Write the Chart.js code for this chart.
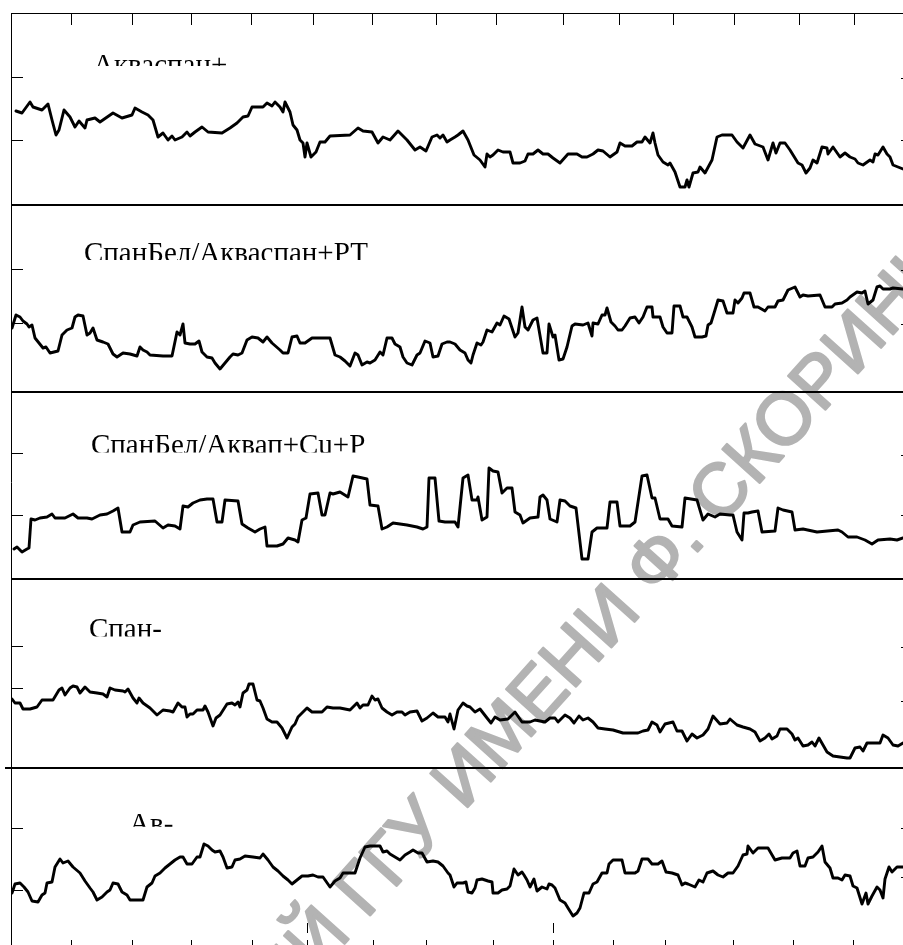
<!DOCTYPE html>
<html>
<head>
<meta charset="utf-8">
<script src="https://cdn.jsdelivr.net/npm/chart.js@4.4.1/dist/chart.umd.min.js"></script>
<style>
  html, body { margin: 0; padding: 0; background: #fff; overflow: hidden; width: 903px; height: 945px; }
  canvas { display: block; }
</style>
</head>
<body>
<canvas id="traces" width="903" height="960"></canvas>
<script>
// ---- recorded traces (time in arbitrary units, signal in panel units) ----
const p1Time = [5,11,19,22,31,37,41,45,48,53,59,64,68,74,76,84,89,102,111,121,124,131,137,142,147,152,157,161,164,171,176,179,184,191,197,211,219,226,232,237,241,252,256,261,264,269,272,274,279,282,286,289,292,294,296,300,305,309,314,319,339,347,352,361,367,372,379,387,396,404,409,415,421,426,429,432,436,439,444,447,452,457,463,469,474,476,479,482,487,492,499,502,509,514,517,522,527,532,537,542,549,557,566,571,576,582,587,592,599,606,609,614,621,626,631,634,639,642,644,647,652,657,659,664,669,674,676,678,682,687,689,694,701,706,711,721,726,732,739,744,752,757,762,765,769,774,779,787,791,795,799,802,806,811,816,817,822,829,834,839,844,847,852,859,862,864,867,872,876,879,882,887,892];
const p1Value = [94,92,103,98,95,101,85,70,75,95,88,78,84,77,85,87,83,92,87,90,97,93,90,85,68,72,65,69,65,68,73,69,73,78,73,72,77,82,88,89,98,98,102,99,103,98,93,103,93,80,75,65,62,48,62,48,53,63,63,69,70,77,74,73,62,68,65,74,65,55,58,54,68,70,67,70,63,65,68,70,74,65,50,45,38,51,48,50,55,53,53,42,42,44,51,51,55,51,51,47,42,51,51,48,48,51,55,54,48,53,62,59,59,63,63,68,62,72,62,50,43,40,42,33,18,18,25,18,32,33,38,32,45,68,70,70,63,57,70,61,58,45,62,52,62,62,55,42,40,32,37,45,42,58,57,51,58,48,52,48,46,42,40,45,43,51,50,58,51,48,40,38,36];

const p2Time = [1,5,9,12,16,18,21,24,28,32,35,39,47,51,56,61,64,67,72,76,79,82,86,92,97,102,106,112,119,126,129,132,136,139,152,161,166,169,172,174,179,184,188,191,196,201,204,209,214,219,222,227,231,236,241,247,252,256,261,269,272,277,281,286,289,294,301,319,324,329,334,339,344,347,351,356,359,364,369,372,376,381,384,389,392,396,401,406,409,414,419,422,427,431,436,439,444,449,454,457,460,462,466,470,472,476,481,486,489,493,498,504,507,511,514,517,522,526,532,536,538,542,544,548,552,556,561,564,572,577,581,582,587,591,594,596,600,604,607,611,614,619,624,628,632,636,641,642,649,652,656,661,663,669,672,676,681,684,691,695,697,700,704,707,712,716,722,724,727,731,733,739,743,747,754,757,764,767,772,777,784,789,792,797,809,814,821,824,831,836,839,846,851,854,857,862,866,869,872,879,882,892];
const p2Value = [64,77,75,71,68,65,67,54,49,44,45,39,41,57,62,64,75,77,76,57,59,64,52,50,48,38,35,39,38,36,45,42,40,37,36,36,60,57,68,49,48,48,51,40,35,34,29,23,29,35,38,37,39,52,55,54,50,55,49,42,39,39,55,56,49,49,54,54,37,35,31,26,39,37,27,30,29,32,40,37,54,54,48,45,35,29,27,37,39,51,49,35,36,48,50,50,48,42,39,32,29,37,49,47,50,62,60,69,67,76,73,55,59,85,65,62,72,74,39,39,68,55,57,32,33,45,66,68,67,69,56,69,68,77,77,84,70,66,62,62,66,74,75,69,75,85,85,75,75,65,59,59,86,86,75,75,65,55,55,56,67,69,82,92,91,79,79,92,89,94,99,99,85,85,81,85,85,91,92,102,105,95,97,96,97,85,85,88,89,92,95,100,99,101,88,92,105,106,103,103,104,103];

const p3Time = [3,6,11,16,18,20,24,29,36,41,44,54,62,67,76,81,89,96,102,107,111,119,122,129,144,152,157,164,169,172,177,182,189,196,202,206,211,214,227,231,237,244,249,254,256,266,272,277,284,287,291,295,299,307,311,314,319,322,329,337,342,347,356,359,367,371,376,382,396,406,412,416,418,424,428,434,439,444,447,452,457,461,466,467,471,476,478,482,487,491,496,501,504,509,512,519,527,529,532,536,539,546,549,554,559,565,571,577,581,586,596,599,606,609,619,624,631,636,641,644,649,657,661,671,674,686,692,697,704,709,719,722,726,731,733,737,741,747,751,764,767,772,781,784,792,806,827,831,837,846,854,861,867,879,886,892];
const p3Value = [30,32,27,30,31,60,59,61,62,65,61,61,65,61,61,60,64,65,68,71,47,47,54,57,58,51,54,53,50,73,72,76,79,80,80,57,57,79,78,55,51,47,50,52,33,33,35,41,39,37,59,61,85,86,64,64,86,85,87,82,103,102,100,74,73,50,52,56,54,52,50,52,101,101,58,57,57,57,52,101,104,79,79,82,59,62,111,108,107,86,91,91,67,64,56,61,62,82,84,79,60,57,79,78,73,71,20,20,47,51,51,77,77,53,53,57,103,104,81,81,60,60,53,52,81,79,59,65,62,65,64,64,47,39,66,66,67,68,47,48,71,69,67,49,50,47,49,47,42,42,39,35,39,40,39,41];

const p4Time = [1,4,9,12,19,26,31,42,48,51,54,59,62,66,69,74,79,86,92,96,99,104,112,114,117,122,126,128,132,139,146,152,159,162,167,171,174,176,179,182,186,192,194,197,202,205,209,216,221,224,227,229,232,236,238,242,246,249,252,256,261,266,271,276,281,284,287,292,296,301,311,316,322,329,334,339,346,349,352,357,361,364,367,371,376,381,386,391,394,399,406,411,416,422,427,434,437,439,443,447,452,456,459,464,469,476,480,484,489,497,504,511,519,524,534,539,544,547,554,559,563,568,572,577,582,587,594,602,612,627,632,637,641,646,649,654,662,666,671,676,681,686,692,697,702,709,716,719,726,732,739,744,749,754,758,761,766,769,776,781,784,787,792,797,801,804,808,812,816,822,829,836,839,844,849,852,856,862,869,872,877,882,887,892];
const p4Value = [69,65,65,59,59,61,68,68,78,80,73,80,82,81,75,81,76,75,74,71,80,78,77,76,79,70,65,70,65,60,53,58,57,56,65,61,61,51,54,54,58,58,62,56,42,50,53,64,65,63,66,61,75,78,84,84,68,67,60,49,46,46,40,30,41,44,51,56,60,56,56,61,60,60,59,58,65,60,63,63,72,68,69,60,56,53,56,56,53,56,57,47,50,55,51,51,46,54,39,58,65,62,61,56,59,50,45,51,48,49,56,46,46,48,46,50,50,46,53,50,45,52,48,50,46,40,39,38,35,35,37,38,46,43,36,44,46,37,37,27,34,30,33,39,52,44,45,49,43,41,39,36,27,30,34,29,32,39,39,34,28,30,22,23,26,22,30,23,16,12,11,10,10,20,21,17,25,25,25,33,30,23,22,25];

const p5Time = [1,4,9,13,17,21,27,31,34,36,41,44,49,52,57,62,69,74,79,82,86,91,96,99,102,107,111,116,119,132,136,141,144,149,154,159,164,169,172,176,181,186,189,193,197,201,204,209,212,216,221,224,229,234,242,249,252,257,262,267,272,277,281,286,291,297,302,307,312,319,324,329,332,344,349,354,359,369,372,376,379,384,389,394,399,402,407,411,416,422,427,432,437,439,443,446,452,455,457,461,464,466,471,477,481,482,487,491,496,499,503,507,511,513,516,519,523,526,531,536,538,541,544,549,554,557,562,566,569,573,578,582,586,591,596,598,602,611,614,624,627,631,637,641,647,651,655,661,667,671,674,677,684,688,692,696,702,707,712,717,722,727,732,736,737,742,747,757,764,771,779,782,786,789,794,797,802,807,811,814,819,822,827,831,834,839,842,846,851,855,857,861,866,869,872,874,878,881,886,892];
const p5Value = [59,68,69,65,60,51,50,57,59,69,70,85,93,89,91,85,79,71,64,60,52,55,60,62,69,68,60,57,52,52,65,69,76,79,84,88,92,95,95,88,88,95,95,108,106,102,100,101,95,84,85,92,93,96,95,94,98,92,85,81,76,72,68,72,76,76,77,75,75,65,71,74,79,79,94,105,106,106,100,101,98,95,92,97,100,102,99,99,90,91,90,86,79,77,65,69,69,70,60,59,64,72,73,71,70,59,59,62,63,66,83,77,80,77,72,65,73,61,65,63,68,67,64,52,49,44,36,39,44,59,59,68,70,79,79,88,92,92,79,79,81,93,93,88,88,91,80,79,77,67,69,68,65,72,70,79,81,77,75,79,79,86,97,98,106,99,104,104,92,94,94,99,101,86,86,94,95,100,106,90,84,74,74,72,77,76,66,64,48,59,48,56,65,62,54,73,85,80,85,85];

// ---- panel titles, ranges and axis ticks ----
const panelNames = ['Акваспан+', 'СпанБел/Акваспан+РТ', 'СпанБел/Аквап+Cu+P', 'Спан-', 'Ав-'];
const panelRanges = [192, 187, 187, 189, 184];
const topTicks = [60, 121, 180, 240, 302, 361, 425, 485, 552, 608, 662, 723, 788, 843];
const bottomTicks = [60, 121, 180, 241, 296, 362, 415, 482, 542, 602, 654, 722, 782, 842];
const leftTicks = [[128, 65], [123, 69], [126, 64], [122, 80], [124, 62]];
const rightTicks = [[127, 65], [122, 68], [124, 64], [121, 67], [124, 75]];
const watermarkText = 'РЕПОЗИТОРИЙ ГГУ ИМЕНИ Ф. СКОРИНЫ';

const series = [
  [p1Time, p1Value], [p2Time, p2Value], [p3Time, p3Value], [p4Time, p4Value], [p5Time, p5Value]
];

// title placement per panel: time position, baseline and clip level in panel units
const titleSpots = [
  { t: 82, base: 131, cut: 139 },
  { t: 73, base: 130, cut: 132 },
  { t: 80, base: 125, cut: 126.5 },
  { t: 78, base: 130.5, cut: 131.5 },
  { t: 118, base: 119, cut: 125.3 }
];

const scales = {
  x: { type: 'linear', min: 0, max: 892, display: false }
};
// left-stacked axes are laid out starting from the last one, so add the bottom panel first
for (let i = panelNames.length - 1; i >= 0; i--) {
  scales['y' + (i + 1)] = {
    type: 'linear',
    position: 'left',
    stack: 'panels',
    stackWeight: panelRanges[i],
    min: 0,
    max: panelRanges[i],
    ticks: { display: false },
    grid: { display: false, drawTicks: false },
    border: { display: false }
  };
}

const datasets = series.map(([time, value], i) => ({
  label: panelNames[i],
  data: time.map((t, k) => ({ x: t, y: value[k] })),
  xAxisID: 'x',
  yAxisID: 'y' + (i + 1),
  borderColor: '#000',
  borderWidth: 2.9,
  borderJoinStyle: 'round',
  borderCapStyle: 'round',
  pointRadius: 0,
  tension: 0,
  fill: false
}));

function hLine(ctx, x1, x2, y, w) {
  ctx.lineWidth = w;
  ctx.beginPath(); ctx.moveTo(x1, y); ctx.lineTo(x2, y); ctx.stroke();
}
function vLine(ctx, x, y1, y2, w) {
  ctx.lineWidth = w;
  ctx.beginPath(); ctx.moveTo(x, y1); ctx.lineTo(x, y2); ctx.stroke();
}

const framePlugin = {
  id: 'frame',
  beforeDraw(chart) {
    const { ctx, width, height } = chart;
    ctx.save();
    ctx.fillStyle = '#fff';
    ctx.fillRect(0, 0, width, height);
    // diagonal repository stamp behind the traces, centred on the "Ф." full stop
    ctx.translate(700, 549);
    ctx.rotate(-48 * Math.PI / 180);
    ctx.font = '73px "Liberation Sans", Arial, sans-serif';
    ctx.fillStyle = '#b3b3b3';
    ctx.strokeStyle = '#b3b3b3';
    ctx.lineWidth = 2.4;
    ctx.lineJoin = 'round';
    ctx.textBaseline = 'alphabetic';
    const pre = ctx.measureText('РЕПОЗИТОРИЙ ГГУ ИМЕНИ Ф').width;
    const dot = ctx.measureText('.').width;
    const x0 = -(pre + dot / 2);
    ctx.fillText(watermarkText, x0, 0);
    ctx.strokeText(watermarkText, x0, 0);
    ctx.restore();
  },
  afterDatasetsDraw(chart) {
    const { ctx, chartArea, scales: sc } = chart;
    const x = sc.x;
    const left = chartArea.left, right = chartArea.right;
    const ys = panelNames.map((_, i) => sc['y' + (i + 1)]);
    ctx.save();
    ctx.strokeStyle = '#000';
    ctx.lineCap = 'butt';

    // outer frame and panel separators
    hLine(ctx, left, right, Math.round(ys[0].top) + 0.5, 1);
    ys.forEach((s, i) => {
      const from = i === 3 ? left - 6 : left;
      hLine(ctx, from, right, s.bottom, 2);
    });
    vLine(ctx, left + 0.5, ys[0].top, ys[4].bottom, 1);

    // time ticks along the top and bottom edges
    topTicks.forEach(t => {
      const px = Math.round(x.getPixelForValue(t)) + 0.5;
      vLine(ctx, px, ys[0].top, ys[0].top + 12, 1);
    });
    bottomTicks.forEach(t => {
      const px = Math.round(x.getPixelForValue(t)) + 0.5;
      vLine(ctx, px, ys[4].bottom - 12, ys[4].bottom, 1);
    });
    [296, 542].forEach(t => {
      const px = Math.round(x.getPixelForValue(t)) + 0.5;
      vLine(ctx, px, ys[4].getPixelForValue(29), ys[4].getPixelForValue(19), 1);
    });

    // signal ticks on each panel
    ys.forEach((s, i) => {
      leftTicks[i].forEach(v => {
        const py = Math.round(s.getPixelForValue(v)) + 0.5;
        hLine(ctx, left, left + 12, py, 1);
      });
      rightTicks[i].forEach(v => {
        const py = Math.round(s.getPixelForValue(v)) + 0.5;
        hLine(ctx, right - 2, right, py, 1);
      });
    });

    // panel titles (lower part hidden below the clip level)
    ctx.fillStyle = '#000';
    ctx.font = '29px "Liberation Serif", "Times New Roman", serif';
    ctx.textBaseline = 'alphabetic';
    ys.forEach((s, i) => {
      const spot = titleSpots[i];
      const cutY = s.getPixelForValue(spot.cut);
      ctx.save();
      ctx.beginPath();
      ctx.rect(left + 2, s.top + 2, right - left, cutY - s.top - 2);
      ctx.clip();
      ctx.fillText(panelNames[i], x.getPixelForValue(spot.t), s.getPixelForValue(spot.base));
      ctx.restore();
    });
    ctx.restore();
  }
};

new Chart(document.getElementById('traces'), {
  type: 'line',
  data: { datasets },
  options: {
    responsive: false,
    animation: false,
    devicePixelRatio: 1,
    layout: { padding: { left: 11, right: 0, top: 13, bottom: 8 } },
    scales,
    plugins: { legend: { display: false }, tooltip: { enabled: false } }
  },
  plugins: [framePlugin]
});
</script>
</body>
</html>
